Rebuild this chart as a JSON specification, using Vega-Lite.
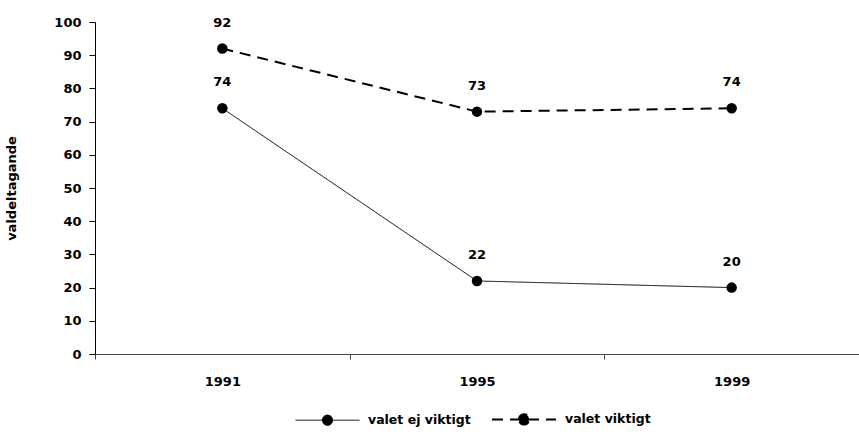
{
  "$schema": "https://vega.github.io/schema/vega-lite/v6.json",
  "autosize": "none",
  "width": 764,
  "height": 332,
  "padding": {"left": 95, "top": 22, "right": 0, "bottom": 82},
  "background": "white",
  "config": {
    "view": {"stroke": null},
    "font": "DejaVu Sans",
    "axis": {"labelFont": "DejaVu Sans", "labelFontWeight": "bold", "labelFontSize": 13, "labelColor": "black", "domainColor": "black", "tickColor": "black", "grid": false, "titleFont": "DejaVu Sans", "titleFontWeight": "bold", "titleFontSize": 13, "titleColor": "black"},
    "legend": {"labelFont": "DejaVu Sans", "labelFontWeight": "bold", "labelFontSize": 12.5, "labelColor": "black"}
  },
  "data": {
    "values": [
      {"year": "1991", "series": "valet ej viktigt", "value": 74},
      {"year": "1995", "series": "valet ej viktigt", "value": 22},
      {"year": "1999", "series": "valet ej viktigt", "value": 20},
      {"year": "1991", "series": "valet viktigt", "value": 92},
      {"year": "1995", "series": "valet viktigt", "value": 73},
      {"year": "1999", "series": "valet viktigt", "value": 74}
    ]
  },
  "encoding": {
    "x": {
      "field": "year", "type": "ordinal", "bandPosition": 0.5,
      "scale": {"type": "band", "paddingInner": 0, "paddingOuter": 0},
      "axis": {"title": null, "labelAngle": 0, "tickBand": "extent", "tickSize": 5, "labelPadding": 16, "domainColor": "#444", "tickColor": "#444"}
    },
    "y": {
      "field": "value", "type": "quantitative",
      "scale": {"domain": [0, 100], "nice": false},
      "axis": {"title": "valdeltagande", "values": [0,10,20,30,40,50,60,70,80,90,100], "tickSize": 6, "labelPadding": 8, "titleX": -77}
    }
  },
  "layer": [
    {
      "mark": {"type": "line", "color": "black"},
      "encoding": {
        "detail": {"field": "series"},
        "strokeDash": {
          "field": "series", "type": "nominal",
          "scale": {"domain": ["valet ej viktigt", "valet viktigt"], "range": [[1, 0], [11, 7]]},
          "legend": {
            "title": null, "orient": "none", "direction": "horizontal",
            "legendX": 200, "legendY": 364,
            "symbolType": "M-1,0L1,0M-0.16,0A0.16,0.16,0,1,1,0.16,0A0.16,0.16,0,1,1,-0.16,0Z",
            "symbolSize": 4096, "symbolStrokeColor": "black", "symbolFillColor": "black", "symbolStrokeWidth": 1,
            "columnPadding": 17, "labelOffset": 8,
            "labelExpr": "datum.label == 'valet viktigt' ? '  ' + datum.label : datum.label",
            "encode": {"symbols": {"update": {"strokeWidth": {"signal": "datum.value == 'valet viktigt' ? 2 : 1"}}}}
          }
        },
        "strokeWidth": {
          "field": "series", "type": "nominal",
          "scale": {"domain": ["valet ej viktigt", "valet viktigt"], "range": [1, 2]},
          "legend": null
        }
      }
    },
    {
      "mark": {"type": "point", "filled": true, "color": "black", "size": 110, "opacity": 1}
    },
    {
      "mark": {"type": "text", "dy": -26, "font": "DejaVu Sans", "fontWeight": "bold", "fontSize": 13, "color": "black"},
      "encoding": {"text": {"field": "value", "type": "quantitative"}}
    }
  ]
}
